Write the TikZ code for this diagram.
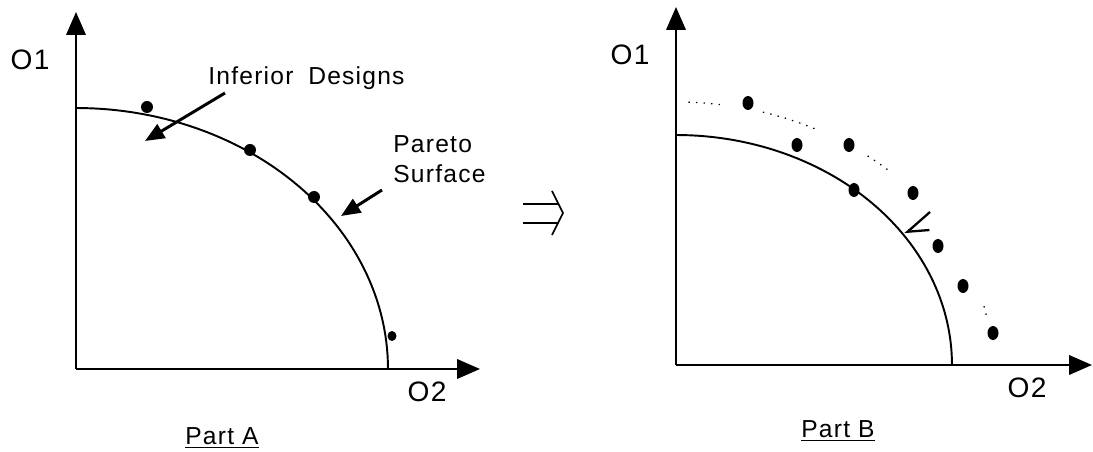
\documentclass[tikz,border=0pt]{standalone}
\usepackage{fontspec}
\setmainfont{Liberation Sans}[LetterSpace=5]
\usetikzlibrary{arrows.meta}

\begin{document}
\begin{tikzpicture}[x=0.02cm, y=-0.02cm,
    axis/.style={line width=1.3pt, -{Triangle[length=13pt,width=11pt]}},
    front/.style={line width=1.1pt},
    pointer/.style={line width=1.7pt, -{Triangle[length=11pt,width=9pt]}},
    lbl/.style={font=\fontsize{14}{17}\selectfont, inner sep=0pt},
    axlbl/.style={font=\fontsize{16}{19}\selectfont, inner sep=0pt}]
    \useasboundingbox (0,0) rectangle (1093,452);

    % Part A: axes and Pareto front
    \coordinate (oA) at (76,369);
    \draw[axis] (oA) -- (76,12);
    \draw[axis] (oA) -- (480,369);
    \draw[front] plot[domain=0:90, samples=60] ({76+312*cos(\x)},{369-261*sin(\x)});
    \node[axlbl] (o1A) at (30,60) {O1};
    \node[axlbl] (o2A) at (427,392) {O2};

    % designs on the front
    \fill (147,107) ellipse (0.12cm and 0.12cm);
    \fill (250,150) ellipse (0.12cm and 0.12cm);
    \fill (314,197) ellipse (0.12cm and 0.12cm);
    \fill (392,336) ellipse (0.09cm and 0.1cm);

    % labels with pointers
    \node[lbl, anchor=base west] (inf) at (208,85) {Inferior\hspace{0.6em}Designs};
    \coordinate (infTail) at (225,93);
    \coordinate (infTip) at (145,141);
    \draw[pointer] (infTail) -- (infTip);
    \node[lbl, anchor=north west, align=left] (par) at (393,135) {Pareto\\Surface};
    \coordinate (parTail) at (382,190);
    \coordinate (parTip) at (341,216);
    \draw[pointer] (parTail) -- (parTip);
    \node[lbl, anchor=base] (partA) at (222,445) {\underline{Part A}};

    % step between the parts
    \draw[line width=1pt] (523,204) -- (559,204) (523,223) -- (559,223);
    \draw[line width=1pt] (552,191) -- (563,213) -- (552,235);

    % Part B: axes and old front
    \coordinate (oB) at (676,365);
    \draw[axis] (oB) -- (676,7);
    \draw[axis] (oB) -- (1092,365);
    \draw[front] plot[domain=0:90, samples=60] ({676+276*cos(\x)},{365-230*sin(\x)});
    \node[axlbl] (o1B) at (630,55) {O1};
    \node[axlbl] (o2B) at (1027,388) {O2};

    % new designs beyond the front
    \foreach \px/\py in {748/103, 797/145, 849/145, 854/190, 913/193, 938/246, 963/286, 993/333}
        \fill (\px,\py) ellipse (0.11cm and 0.14cm);
    \foreach \ta/\tb in {82/88, 64/75, 48/53, 11/13}
        \draw[line width=0.7pt, dash pattern=on 0.8pt off 3.5pt]
            plot[domain=\ta:\tb, samples=12] ({676+316*cos(\x)},{365-263*sin(\x)});
    \coordinate (movTail) at (930,212);
    \coordinate (movTip) at (905,234);
    \draw[line width=1.3pt, -{Straight Barb[left, length=10pt, width=15pt]}] (movTail) -- (movTip);
    \node[lbl, anchor=base] (partB) at (838,438) {\underline{Part B}};
\end{tikzpicture}
\end{document}
